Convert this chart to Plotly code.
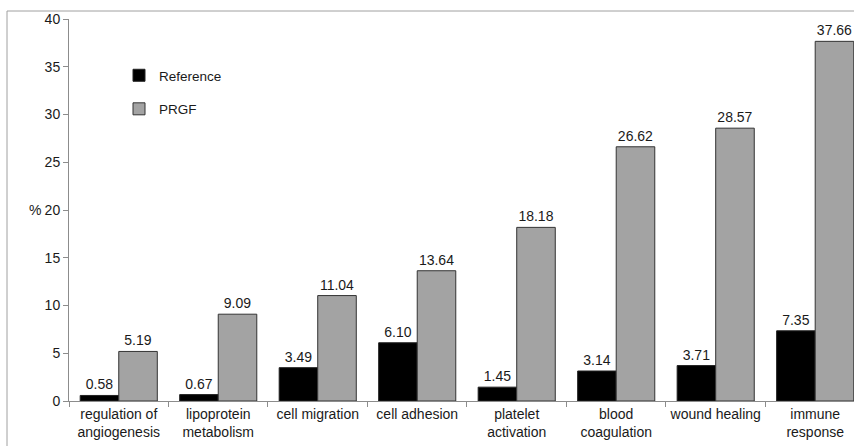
import plotly.graph_objects as go

categories = [
    "regulation of<br>angiogenesis",
    "lipoprotein<br>metabolism",
    "cell migration",
    "cell adhesion",
    "platelet<br>activation",
    "blood<br>coagulation",
    "wound healing",
    "immune<br>response",
]
reference_values = [0.58, 0.67, 3.49, 6.10, 1.45, 3.14, 3.71, 7.35]
prgf_values = [5.19, 9.09, 11.04, 13.64, 18.18, 26.62, 28.57, 37.66]
y_ticks = [0, 5, 10, 15, 20, 25, 30, 35, 40]

FONT = "Liberation Sans, Arial, sans-serif"
TEXT_COLOR = "#1a1a1a"

fig = go.Figure()
fig.add_trace(go.Bar(
    x=categories, y=reference_values, name="Reference",
    marker=dict(color="#000000", line=dict(color="#222222", width=1)),
    texttemplate="%{y:.2f}", textposition="outside",
    textfont=dict(size=14, color=TEXT_COLOR, family=FONT),
    cliponaxis=False, legendgroup="a",
))
fig.add_trace(go.Bar(
    x=categories, y=prgf_values, name="PRGF",
    marker=dict(color="#a3a3a3", line=dict(color="#333333", width=1)),
    texttemplate="%{y:.2f}", textposition="outside",
    textfont=dict(size=14, color=TEXT_COLOR, family=FONT),
    cliponaxis=False, legendgroup="b",
))

W, H = 854, 446
L, R, T, B = 69, 0, 19, 45
pw, ph = W - L - R, H - T - B

def px_x(p):
    return (p - L) / pw

def px_y(p):
    return (H - B - p) / ph

fig.update_layout(
    width=W, height=H,
    margin=dict(l=L, r=R, t=T, b=B, autoexpand=False),
    paper_bgcolor="white", plot_bgcolor="white",
    font=dict(family=FONT, size=14, color=TEXT_COLOR),
    barmode="group", bargap=0.225, bargroupgap=0,
    showlegend=True,
    legend=dict(
        x=px_x(119), y=px_y(60), xanchor="left", yanchor="top",
        bgcolor="rgba(0,0,0,0)", font=dict(size=13.5, family=FONT, color=TEXT_COLOR),
        traceorder="grouped", tracegroupgap=13, itemwidth=30,
    ),
    xaxis=dict(
        range=[-0.5, 7.39], showline=True, linecolor="#8c8c8c", linewidth=1,
        ticks="outside", tickson="boundaries", ticklen=5, tickcolor="#8c8c8c",
        showgrid=False, tickangle=0, automargin=False,
        tickfont=dict(size=14, family=FONT, color=TEXT_COLOR),
    ),
    yaxis=dict(
        range=[0, 40], tickvals=y_ticks, showline=True, linecolor="#8c8c8c",
        linewidth=1, ticks="outside", ticklen=5, tickcolor="#8c8c8c",
        showgrid=False, zeroline=False, automargin=False,
        tickfont=dict(size=14, family=FONT, color=TEXT_COLOR),
    ),
    annotations=[dict(
        text="%", xref="paper", yref="y", x=px_x(35), y=20,
        xanchor="center", yanchor="middle", showarrow=False,
        font=dict(size=14, family=FONT, color=TEXT_COLOR),
    )],
    shapes=[
        # outer chart frame (left and top edges)
        dict(type="line", xref="paper", yref="paper",
             x0=px_x(7), x1=px_x(7), y0=px_y(11), y1=px_y(H + 5),
             line=dict(color="#a0a0a0", width=1)),
        dict(type="line", xref="paper", yref="paper",
             x0=px_x(7), x1=px_x(W + 5), y0=px_y(11), y1=px_y(11),
             line=dict(color="#a0a0a0", width=1)),
    ],
)

fig.write_html("out.html")
